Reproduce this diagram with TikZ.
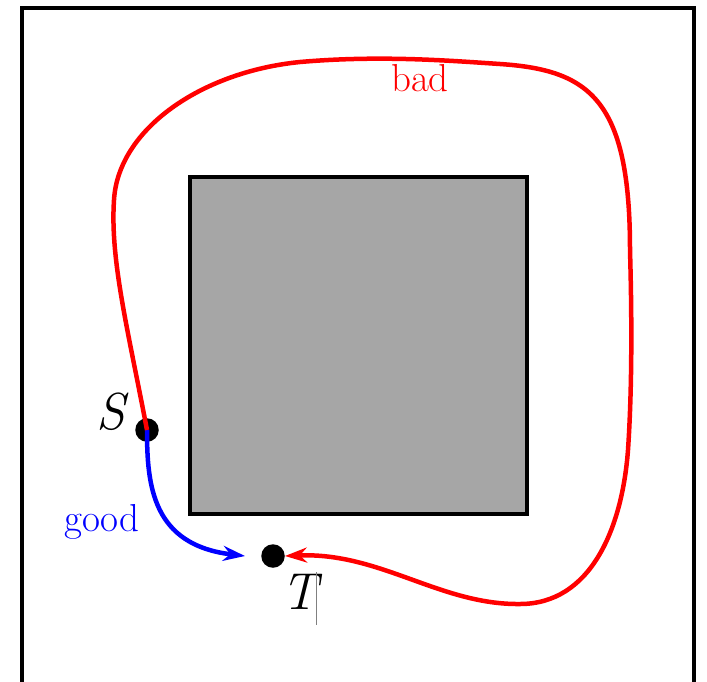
\documentclass[tikz,border=0pt]{standalone}
\usepackage{fontspec}
\usetikzlibrary{arrows.meta}
\begin{document}
\begin{tikzpicture}[x=1pt,y=-1pt,
  dot/.style={circle,fill=black,inner sep=0pt,minimum size=23.5pt},
  lbl/.style={font=\fontsize{39}{44}\selectfont},
  big/.style={font=\fontsize{52}{60}\selectfont\itshape},
  path/.style={line width=4.5pt,-{Stealth[length=22pt,width=15pt]}}]
\useasboundingbox (0,0) rectangle (707,681);
\draw[line width=4pt] (22,700) -- (22,8) -- (694,8) -- (694,700);
\node[draw,line width=3.5pt,fill=black!35,minimum width=337pt,minimum height=337pt,inner sep=0pt] (box) at (358.5,345.5) {};
\node[dot] (S) at (147,430) {};
\node[dot] (T) at (273,556) {};
\node[big] (Sl) at (111,412) {S};
\node[big] (Tl) at (300,592) {T};
\draw[gray,line width=0.8pt] (316,572) -- (316,625);
\node[lbl,text=blue] (g) at (102,522) {good};
\node[lbl,text=red] (b) at (420,78) {bad};
\draw[path,blue] (S.center) .. controls (147,485) and (152,545) .. (245,556);
\draw[path,red] (S.center) .. controls (128,330) and (110,260) .. (114,200)
  .. controls (118,130) and (200,72) .. (300,62)
  .. controls (380,55) and (450,60.7) .. (500,64)
  .. controls (590,70) and (630,100) .. (630,250)
  .. controls (632,320) and (632,390) .. (628,450)
  .. controls (622,530) and (590,604) .. (520,604)
  .. controls (440,605) and (380,552) .. (T.east);
\end{tikzpicture}
\end{document}
